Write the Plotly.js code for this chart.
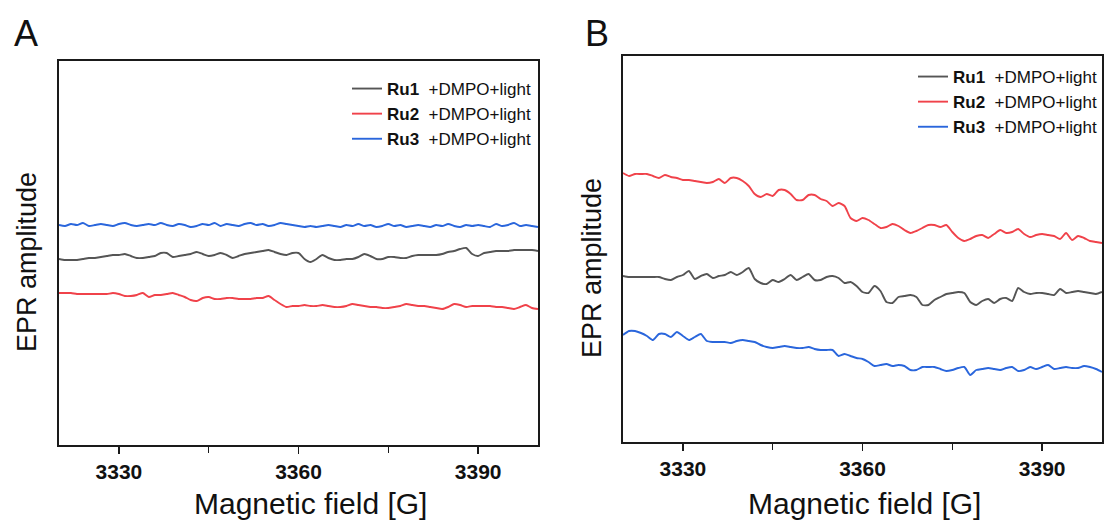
<!DOCTYPE html>
<html>
<head>
<meta charset="utf-8">
<script src="https://cdn.plot.ly/plotly-3.0.1.min.js"></script>
<style>
  html, body { margin: 0; padding: 0; background: #ffffff; }
  #chart { width: 1105px; height: 527px; }
</style>
</head>
<body>
<div id="chart"></div>
<script>
// Magnetic field sampling: start and step (G)
const fieldStart = 3320;
const fieldStep = 1;
const fieldTicks = [3330, 3360, 3390];
const fieldMinorTicks = [3345, 3375];
const seriesNames = ["Ru1", "Ru2", "Ru3"];
const seriesSuffix = "+DMPO+light";

// Panel A (arbitrary EPR amplitude units)
const a_ru1 = [186,185,185,185,186,187,187,188,189,190,190,191,189,187,187,188,189,192,192,188,
  189,190,191,193,191,189,190,192,190,187,189,191,192,193,194,195,193,191,190,192,
  192,186,183,186,190,187,185,185,186,186,188,191,189,186,186,188,188,187,187,189,
  190,190,190,190,191,193,194,196,197,191,189,192,193,194,194,194,195,195,195,195,194];
const a_ru2 = [152,152,152,151,151,151,151,151,151,152,151,149,149,150,152,148,150,150,151,152,
  150,148,145,144,147,148,146,146,147,147,146,146,146,147,147,149,145,141,138,139,
  139,140,139,139,140,139,138,138,139,141,140,139,138,138,137,137,138,139,141,140,
  139,139,138,137,136,138,141,140,138,139,139,139,139,138,138,137,136,138,140,137,136];
const a_ru3 = [220,219,221,220,222,219,220,221,220,219,221,222,220,219,220,221,220,222,220,219,
  221,220,218,219,221,220,222,219,221,220,219,221,222,220,221,219,220,222,221,220,
  219,218,219,218,219,220,219,218,220,219,221,219,220,218,219,221,219,220,218,219,
  220,219,218,220,219,221,219,218,220,219,220,219,218,221,219,220,222,219,220,219,218];

// Panel B (arbitrary EPR amplitude units)
const b_ru1 = [166,165,165,165,165,165,165,163,162,165,167,171,163,166,168,164,166,167,170,167,
  170,174,163,159,158,162,160,163,167,162,165,168,162,162,165,166,164,159,160,156,
  150,149,156,151,140,139,145,146,147,145,137,137,142,145,148,149,150,149,140,137,
  141,143,139,143,144,141,154,150,148,149,149,148,147,153,149,150,151,150,149,148,150];
const b_ru2 = [269,266,268,268,268,266,264,267,265,264,262,262,261,260,259,260,263,259,264,264,
  261,256,248,245,248,246,252,252,248,242,242,247,247,243,241,236,239,236,224,221,
  224,222,218,214,215,218,216,212,209,211,214,217,217,215,217,210,204,201,203,206,
  207,204,208,212,209,210,213,208,205,207,208,207,206,203,209,202,206,204,201,200,199];
const b_ru3 = [107,111,111,109,106,102,108,108,105,110,106,102,105,108,101,100,100,100,99,101,
  102,101,100,97,95,94,95,96,95,94,94,95,93,92,92,92,86,88,86,84,
  83,80,76,77,78,76,77,76,72,72,75,75,75,73,71,72,74,75,67,72,
  73,74,73,72,74,75,71,72,75,73,75,77,73,74,75,74,74,76,75,73,70];

const colors = ["#555555", "#f0424a", "#2a66dc"];
const FONT = "Liberation Sans, Arial, Helvetica, sans-serif";

function mk(vals, i, xa, ya, legendId) {
  return {
    type: "scatter", mode: "lines",
    x0: fieldStart, dx: fieldStep, y: vals,
    xaxis: xa, yaxis: ya, legend: legendId,
    name: "<b>" + seriesNames[i] + "</b>\u00a0 " + seriesSuffix,
    line: { color: colors[i], width: 1.9, shape: "spline", smoothing: 0.6 },
    hoverinfo: "skip"
  };
}

const traces = [
  mk(a_ru1, 0, "x", "y", "legend"),
  mk(a_ru2, 1, "x", "y", "legend"),
  mk(a_ru3, 2, "x", "y", "legend"),
  mk(b_ru1, 0, "x2", "y2", "legend2"),
  mk(b_ru2, 1, "x2", "y2", "legend2"),
  mk(b_ru3, 2, "x2", "y2", "legend2")
];

function xaxisCfg(domain, anchor) {
  return {
    domain: domain, anchor: anchor, range: [3320, 3400],
    tickvals: fieldTicks, ticktext: fieldTicks.map(String),
    ticks: "outside", ticklen: 7, tickwidth: 1.5, tickcolor: "#1a1a1a",
    minor: { tickvals: fieldMinorTicks, ticks: "outside", ticklen: 6, tickwidth: 1.5, tickcolor: "#1a1a1a" },
    showline: true, mirror: true, linecolor: "#1a1a1a", linewidth: 1.8,
    showgrid: false, zeroline: false,
    tickfont: { family: FONT, size: 21, color: "#111111", weight: "bold" }
  };
}
function yaxisCfg(domain, anchor, top) {
  return {
    domain: domain, anchor: anchor, range: [0, top],
    showticklabels: false, ticks: "",
    showline: true, mirror: true, linecolor: "#1a1a1a", linewidth: 1.8,
    showgrid: false, zeroline: false
  };
}

const legendCommon = {
  bgcolor: "rgba(0,0,0,0)", borderwidth: 0,
  font: { family: FONT, size: 17, color: "#111111" },
  xanchor: "left", yanchor: "top", itemwidth: 30, tracegroupgap: 0
};

const layout = {
  width: 1105, height: 527,
  margin: { l: 0, r: 0, t: 0, b: 0 },
  paper_bgcolor: "#ffffff", plot_bgcolor: "#ffffff",
  showlegend: true,
  xaxis: xaxisCfg([59/1105, 538/1105], "y"),
  yaxis: yaxisCfg([82/527, 466/527], "x", 384),
  xaxis2: xaxisCfg([623/1105, 1102/1105], "y2"),
  yaxis2: yaxisCfg([85/527, 471/527], "x2", 386),
  legend: Object.assign({}, legendCommon, { x: 347/1105, y: 1 - 71/527 }),
  legend2: Object.assign({}, legendCommon, { x: 913/1105, y: 1 - 59/527 }),
  annotations: [
    { text: "A", xref: "paper", yref: "paper", x: 26/1105, y: 1 - 34/527, showarrow: false,
      font: { family: FONT, size: 36, color: "#111111" }, xanchor: "center", yanchor: "middle" },
    { text: "B", xref: "paper", yref: "paper", x: 597/1105, y: 1 - 34/527, showarrow: false,
      font: { family: FONT, size: 36, color: "#111111" }, xanchor: "center", yanchor: "middle" },
    { text: "EPR amplitude", xref: "paper", yref: "paper", x: 27/1105, y: 1 - 262/527, textangle: -90,
      showarrow: false, font: { family: FONT, size: 27, color: "#111111" }, xanchor: "center", yanchor: "middle" },
    { text: "EPR amplitude", xref: "paper", yref: "paper", x: 592/1105, y: 1 - 268/527, textangle: -90,
      showarrow: false, font: { family: FONT, size: 27, color: "#111111" }, xanchor: "center", yanchor: "middle" },
    { text: "Magnetic field [G]", xref: "paper", yref: "paper", x: 310/1105, y: 1 - 503/527,
      showarrow: false, font: { family: FONT, size: 30, color: "#111111" }, xanchor: "center", yanchor: "middle" },
    { text: "Magnetic field [G]", xref: "paper", yref: "paper", x: 864/1105, y: 1 - 503/527,
      showarrow: false, font: { family: FONT, size: 30, color: "#111111" }, xanchor: "center", yanchor: "middle" }
  ]
};

Plotly.newPlot("chart", traces, layout, { staticPlot: true, displayModeBar: false });
</script>
</body>
</html>
